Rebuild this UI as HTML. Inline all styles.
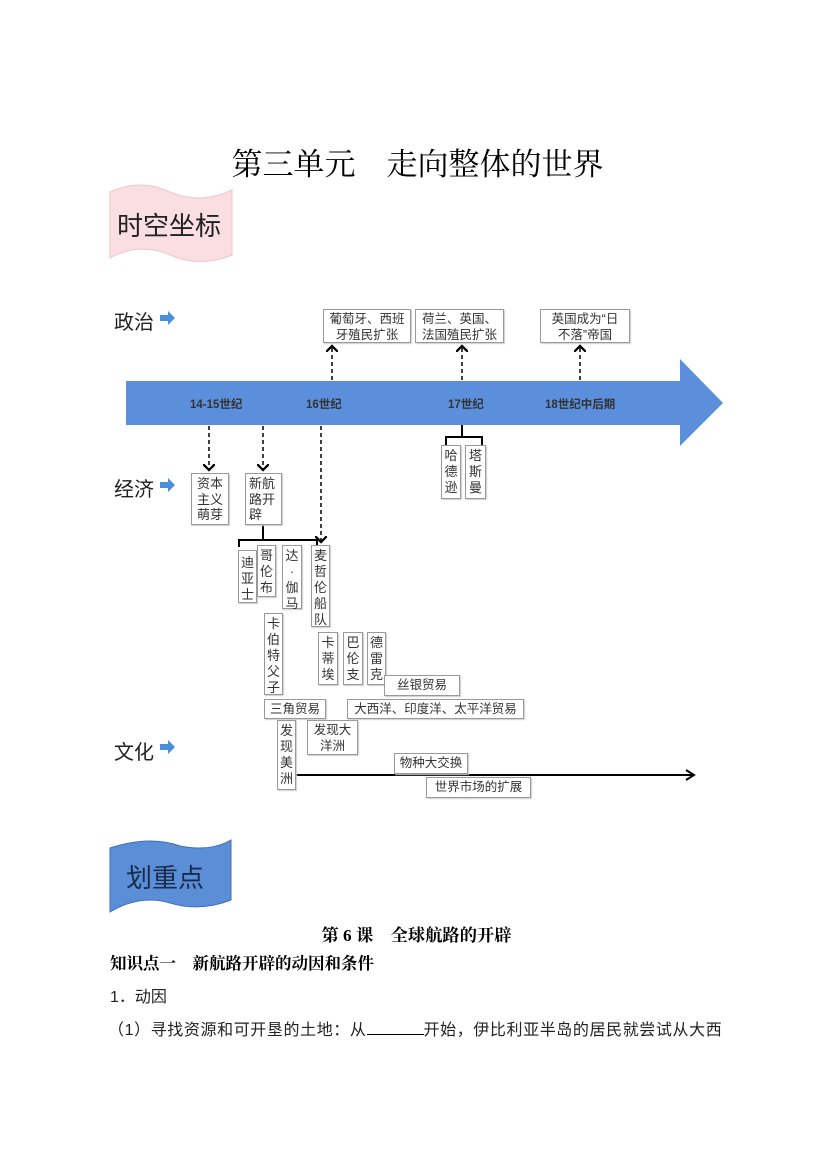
<!DOCTYPE html>
<html><head><meta charset="utf-8"><style>
body{margin:0;background:#fff;width:827px;height:1169px;position:relative;overflow:hidden;font-family:"Liberation Sans","Noto Sans CJK SC",sans-serif;}
.a{position:absolute}
.b{position:absolute;border:1px solid #999;background:#fff;font-size:12.5px;line-height:16px;color:#333;text-align:center;box-sizing:border-box;box-shadow:1px 1px 1px #ccc}
.v{font-size:13px;line-height:16px;padding-top:2px}
.lbl{position:absolute;font-size:20px;color:#222}
.t{position:absolute;font-size:11.5px;font-weight:bold;color:#333}
.s{position:absolute;font-family:"Liberation Serif","Noto Serif CJK SC",serif;color:#000}
</style></head><body>
<div class="s" style="left:0;width:835px;text-align:center;top:139px;font-size:31px;">第三单元　走向整体的世界</div>

<svg class="a" style="left:0;top:0" width="827" height="1169">
<defs><marker id="ah" markerWidth="8" markerHeight="8" refX="4" refY="4" orient="auto"><path d="M0,0 L4,4 L0,8" fill="none" stroke="#000" stroke-width="1.5"/></marker></defs>
<path d="M110,192 Q140,178 170,192 Q200,205 232,190 L232,255 Q200,268 170,255 Q140,242 110,258 Z" fill="#f9dfe1" stroke="#f2c6cb"/>
<path d="M110,848 Q150,835 180,846 Q210,852 231,840 L231,900 Q200,912 170,903 Q140,894 110,912 Z" fill="#5a8fd8" stroke="#3d6fb8"/>
<polygon points="126,381 680,381 680,359 723,403 680,446 680,425 126,425" fill="#5b8fdc"/>
<g stroke="#000" stroke-width="1.5" stroke-dasharray="4,3" fill="none">
<line x1="332" y1="380" x2="332" y2="346" marker-end="url(#ah)"/>
<line x1="462" y1="380" x2="462" y2="346" marker-end="url(#ah)"/>
<line x1="580" y1="380" x2="580" y2="346" marker-end="url(#ah)"/>
<line x1="209" y1="426" x2="209" y2="470" marker-end="url(#ah)"/>
<line x1="263" y1="426" x2="263" y2="470" marker-end="url(#ah)"/>
<line x1="321" y1="426" x2="321" y2="542" marker-end="url(#ah)"/>
</g>
<g stroke="#000" stroke-width="2" fill="none">
<path d="M462,425 V437 M446,445 V437 H482 V445"/>
<path d="M263,525 V540 M239,547 V540 H317 V547"/>
<line x1="296" y1="775" x2="693" y2="775"/>
<path d="M686,770 L694,775 L686,780"/>
</g>
<g fill="#4a90d9">
<path d="M160,315 h8 v-4 l7,7 l-7,7 v-4 h-8z"/>
<path d="M160,482 h8 v-4 l7,7 l-7,7 v-4 h-8z"/>
<path d="M160,744 h8 v-4 l7,7 l-7,7 v-4 h-8z"/>
</g>
</svg>

<div class="a" style="left:117px;top:206px;font-size:26px;color:#222">时空坐标</div>
<div class="a" style="left:126px;top:858px;font-size:26px;color:#1a2a4a">划重点</div>

<div class="lbl" style="left:114px;top:306px">政治</div>
<div class="lbl" style="left:114px;top:473px">经济</div>
<div class="lbl" style="left:114px;top:736px">文化</div>

<div class="t" style="left:190px;top:396px">14-15世纪</div>
<div class="t" style="left:306px;top:396px">16世纪</div>
<div class="t" style="left:448px;top:396px">17世纪</div>
<div class="t" style="left:545px;top:396px">18世纪中后期</div>

<div class="b" style="left:323px;top:309px;width:88px;height:34px;padding-top:1px">葡萄牙、西班<br>牙殖民扩张</div>
<div class="b" style="left:415px;top:309px;width:89px;height:34px;padding-top:1px">荷兰、英国、<br>法国殖民扩张</div>
<div class="b" style="left:540px;top:309px;width:90px;height:34px;padding-top:1px">英国成为“日<br>不落”帝国</div>

<div class="b v" style="left:441px;top:445px;width:20px;height:54px">哈<br>德<br>逊</div>
<div class="b v" style="left:465px;top:445px;width:21px;height:54px">塔<br>斯<br>曼</div>

<div class="b v" style="left:191px;top:473px;width:38px;height:52px;line-height:15.5px">资本<br>主义<br>萌芽</div>
<div class="b v" style="left:245px;top:473px;width:37px;height:52px;line-height:15.5px;text-align:left;padding-left:3px">新航<br>路开<br>辟</div>

<div class="b v" style="left:238px;top:550px;width:19px;height:53px;padding-top:4px">迪<br>亚<br>士</div>
<div class="b v" style="left:257px;top:545px;width:19px;height:52px">哥<br>伦<br>布</div>
<div class="b v" style="left:282px;top:545px;width:20px;height:64px">达<br>·<br>伽<br>马</div>
<div class="b v" style="left:311px;top:545px;width:19px;height:82px">麦<br>哲<br>伦<br>船<br>队</div>
<div class="b v" style="left:264px;top:613px;width:19px;height:82px">卡<br>伯<br>特<br>父<br>子</div>
<div class="b v" style="left:318px;top:632px;width:20px;height:53px">卡<br>蒂<br>埃</div>
<div class="b v" style="left:343px;top:632px;width:20px;height:53px">巴<br>伦<br>支</div>
<div class="b v" style="left:367px;top:632px;width:19px;height:53px">德<br>雷<br>克</div>

<div class="b" style="left:384px;top:675px;width:76px;height:21px;line-height:19px">丝银贸易</div>
<div class="b" style="left:264px;top:699px;width:62px;height:20px;line-height:18px">三角贸易</div>
<div class="b" style="left:347px;top:699px;width:177px;height:20px;line-height:18px">大西洋、印度洋、太平洋贸易</div>
<div class="b v" style="left:277px;top:720px;width:19px;height:70px">发<br>现<br>美<br>洲</div>
<div class="b" style="left:307px;top:720px;width:51px;height:35px;padding-top:1px">发现大<br>洋洲</div>
<div class="b" style="left:394px;top:753px;width:74px;height:21px;line-height:19px">物种大交换</div>
<div class="b" style="left:426px;top:777px;width:105px;height:21px;line-height:19px">世界市场的扩展</div>

<div class="s" style="left:0;width:833px;text-align:center;top:921px;font-size:17.3px;font-weight:bold">第 6 课　全球航路的开辟</div>
<div class="s" style="left:110px;top:950px;font-size:16.5px;font-weight:bold">知识点一　新航路开辟的动因和条件</div>
<div class="a" style="left:110px;top:983px;font-size:16px;color:#222">1．动因</div>
<div class="a" style="left:108px;top:1016px;font-size:16px;letter-spacing:0.6px;color:#222;white-space:nowrap">（1）寻找资源和可开垦的土地：从<span style="display:inline-block;width:57px;border-bottom:1px solid #000;height:14px"></span>开始，伊比利亚半岛的居民就尝试从大西</div>
</body></html>
